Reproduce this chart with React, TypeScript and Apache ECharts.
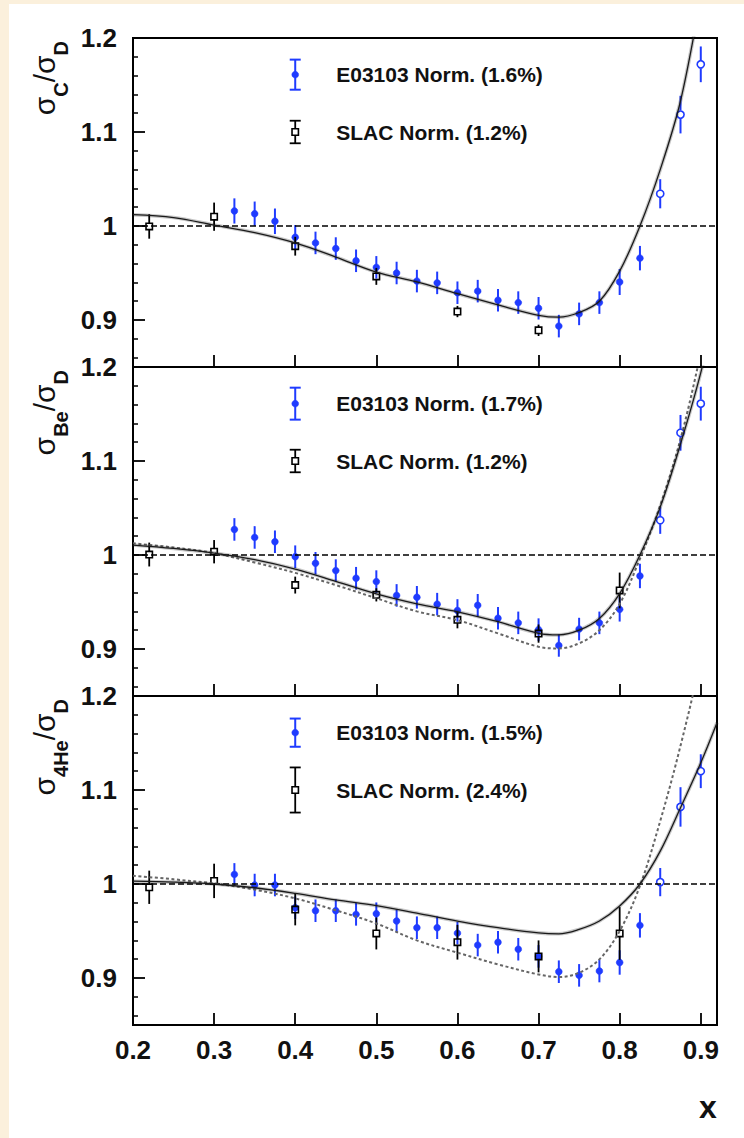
import { useEffect, useRef } from "react";
import * as echarts from "echarts";

// ---------- axes ----------
const xTicks = [0.2, 0.3, 0.4, 0.5, 0.6, 0.7, 0.8, 0.9];
const yMajorTicks = [0.9, 1.0, 1.1];
const yLabelValues = [0.9, 1.0, 1.1, 1.2];
const yMinorTicks = [0.86, 0.88, 0.92, 0.94, 0.96, 0.98, 1.02, 1.04, 1.06, 1.08, 1.12, 1.14, 1.16, 1.18];

// ---------- E03103 data ----------
const xE03103 = [0.325, 0.35, 0.375, 0.4, 0.425, 0.45, 0.475, 0.5, 0.525, 0.55, 0.575, 0.6, 0.625, 0.65, 0.675, 0.7, 0.725, 0.75, 0.775, 0.8, 0.825, 0.85, 0.875, 0.9];
const eC = [1.016, 1.013, 1.005, 0.988, 0.982, 0.976, 0.963, 0.956, 0.950, 0.9414, 0.9395, 0.929, 0.9307, 0.921, 0.9185, 0.9125, 0.8935, 0.9065, 0.9185, 0.9404, 0.9658, 1.0343, 1.1185, 1.172];
const eCErr = [0.0134, 0.013, 0.0136, 0.013, 0.012, 0.012, 0.012, 0.012, 0.012, 0.012, 0.012, 0.012, 0.012, 0.012, 0.012, 0.012, 0.012, 0.012, 0.012, 0.0138, 0.013, 0.0155, 0.02, 0.019];
const eBe = [1.0272, 1.0187, 1.0141, 0.9982, 0.9912, 0.9834, 0.9753, 0.9717, 0.957, 0.955, 0.9477, 0.941, 0.9465, 0.9327, 0.9278, 0.9206, 0.9038, 0.9212, 0.9278, 0.9422, 0.9777, 1.037, 1.13, 1.161];
const eBeErr = [0.012, 0.012, 0.012, 0.012, 0.012, 0.012, 0.012, 0.012, 0.012, 0.012, 0.012, 0.012, 0.012, 0.012, 0.012, 0.012, 0.012, 0.012, 0.012, 0.013, 0.013, 0.0145, 0.019, 0.018];
const eHe = [1.0102, 0.9989, 0.9989, 0.9748, 0.9716, 0.9716, 0.9677, 0.9684, 0.9606, 0.9535, 0.9535, 0.9477, 0.935, 0.938, 0.9306, 0.923, 0.9067, 0.9028, 0.9074, 0.9165, 0.956, 1.002, 1.082, 1.12];
const eHeErr = [0.012, 0.012, 0.012, 0.012, 0.012, 0.012, 0.012, 0.012, 0.012, 0.012, 0.012, 0.012, 0.012, 0.012, 0.012, 0.012, 0.012, 0.012, 0.012, 0.013, 0.013, 0.015, 0.021, 0.018];
const openFromX = 0.85;

// ---------- SLAC data ----------
const xSLAC = [0.22, 0.3, 0.4, 0.5, 0.6, 0.7, 0.8];
const sC = [0.9995, 1.0099, 0.9785, 0.9464, 0.909, 0.889];
const sCErr = [0.013, 0.015, 0.01, 0.009, 0.006, 0.006];
const sBe = [1.0005, 1.0035, 0.968, 0.9576, 0.931, 0.9164, 0.9623];
const sBeErr = [0.0127, 0.0124, 0.009, 0.007, 0.009, 0.0097, 0.019];
const sHe = [0.9965, 1.0033, 0.9728, 0.9474, 0.9381, 0.923, 0.9474];
const sHeErr = [0.0177, 0.0183, 0.0168, 0.017, 0.0185, 0.017, 0.028];

// ---------- model curves ----------
const xCurve = [0.2, 0.25, 0.3, 0.35, 0.4, 0.45, 0.5, 0.55, 0.6, 0.65, 0.7, 0.725, 0.75, 0.775, 0.8, 0.825, 0.85, 0.875, 0.9, 0.92];
const solidC = [1.012, 1.009, 1.001, 0.993, 0.982, 0.967, 0.951, 0.9405, 0.928, 0.916, 0.905, 0.903, 0.908, 0.92, 0.952, 1.0, 1.06, 1.133, 1.243, 1.34];
const solidBe = [1.0106, 1.007, 1.002, 0.995, 0.985, 0.972, 0.9586, 0.948, 0.9396, 0.929, 0.9166, 0.915, 0.92, 0.9325, 0.959, 1.0, 1.051, 1.118, 1.194, 1.27];
const dottedBe = [1.0124, 1.008, 1.002, 0.992, 0.981, 0.968, 0.954, 0.94, 0.9307, 0.9166, 0.9024, 0.9006, 0.906, 0.92, 0.948, 0.996, 1.0527, 1.1233, 1.215, 1.3];
const solidHe = [1.003, 1.002, 1.0, 0.996, 0.99, 0.983, 0.977, 0.969, 0.9606, 0.9535, 0.948, 0.947, 0.9517, 0.9606, 0.9766, 1.0, 1.035, 1.0812, 1.129, 1.1716];
const dottedHe = [1.0088, 1.005, 1.0006, 0.994, 0.9847, 0.972, 0.958, 0.94, 0.927, 0.9145, 0.9038, 0.901, 0.9056, 0.9198, 0.95, 0.998, 1.067, 1.147, 1.24, 1.34];

// ---------- labels ----------
const panelSubs = ["C", "Be", "4He"];
const legendE = ["E03103 Norm. (1.6%)", "E03103 Norm. (1.7%)", "E03103 Norm. (1.5%)"];
const legendS = ["SLAC Norm. (1.2%)", "SLAC Norm. (1.2%)", "SLAC Norm. (2.4%)"];
const normE = [0.016, 0.017, 0.015];
const normS = [0.012, 0.012, 0.024];
const legendX = 0.4;
const legendYE = 1.161;
const legendYS = 1.1;
const xTitle = "x";

const BLUE = "#1f3bff";
const FONT = "'Liberation Sans', Arial, Helvetica, sans-serif";

const GRID_LEFT = 133;
const GRID_W = 584;
const GRID_H = 329;
const GRID_TOPS = [38, 367, 696];
const SMOOTH = 0.35;

function pointChildren(api: any, kind: "E" | "S", x: number, y: number, e: number, open: boolean, cap: boolean) {
  const c = api.coord([x, y]);
  const yt = api.coord([x, y + e])[1];
  const yb = api.coord([x, y - e])[1];
  const color = kind === "E" ? BLUE : "#000";
  const lw = kind === "E" ? 2 : 1.8;
  const children: any[] = [];
  const gap = kind === "S" ? 3.2 : open ? 4 : 0;
  if (gap > 0) {
    if (yt < c[1] - gap) children.push({ type: "line", shape: { x1: c[0], y1: yt, x2: c[0], y2: c[1] - gap }, style: { stroke: color, lineWidth: lw } });
    if (yb > c[1] + gap) children.push({ type: "line", shape: { x1: c[0], y1: c[1] + gap, x2: c[0], y2: yb }, style: { stroke: color, lineWidth: lw } });
  } else {
    children.push({ type: "line", shape: { x1: c[0], y1: yt, x2: c[0], y2: yb }, style: { stroke: color, lineWidth: lw } });
  }
  if (cap) {
    children.push({ type: "line", shape: { x1: c[0] - 5.5, y1: yt, x2: c[0] + 5.5, y2: yt }, style: { stroke: color, lineWidth: lw } });
    children.push({ type: "line", shape: { x1: c[0] - 5.5, y1: yb, x2: c[0] + 5.5, y2: yb }, style: { stroke: color, lineWidth: lw } });
  }
  if (kind === "E") {
    if (open) children.push({ type: "circle", shape: { cx: c[0], cy: c[1], r: 3.6 }, style: { fill: "none", stroke: color, lineWidth: 1.6 } });
    else children.push({ type: "circle", shape: { cx: c[0], cy: c[1], r: 3.4 }, style: { fill: color, stroke: color, lineWidth: 0.5 } });
  } else {
    children.push({ type: "rect", shape: { x: c[0] - 3.2, y: c[1] - 3.2, width: 6.4, height: 6.4 }, style: { fill: "none", stroke: "#000", lineWidth: 1.6 } });
  }
  return children;
}

export default function App() {
  const ref = useRef<HTMLDivElement>(null);
  useEffect(() => {
    if (!ref.current) return;
    const chart = echarts.init(ref.current, undefined, { renderer: "svg" });

    const eVals = [eC, eBe, eHe];
    const eErrs = [eCErr, eBeErr, eHeErr];
    const sVals = [sC, sBe, sHe];
    const sErrs = [sCErr, sBeErr, sHeErr];
    const solids = [solidC, solidBe, solidHe];
    const dotteds: (number[] | null)[] = [null, dottedBe, dottedHe];

    const grids: any[] = [];
    const xAxes: any[] = [];
    const yAxes: any[] = [];
    const series: any[] = [];

    for (let p = 0; p < 3; p++) {
      grids.push({ left: GRID_LEFT, top: GRID_TOPS[p], width: GRID_W, height: GRID_H, show: true, borderColor: "#000", borderWidth: 2, backgroundColor: "transparent" });
      xAxes.push({
        type: "value", gridIndex: p, min: 0.2, max: 0.92,
        axisLine: { show: false },
        axisTick: { show: true, inside: true, length: 12, customValues: xTicks, lineStyle: { color: "#000", width: 1.8 } },
        axisLabel: { show: p === 2, customValues: xTicks, margin: 12, fontSize: 26, fontWeight: "bold", fontFamily: FONT, color: "#111", formatter: (v: number) => v.toFixed(1) },
        splitLine: { show: false },
      });
      // minor ticks
      yAxes.push({
        type: "value", gridIndex: p, min: 0.85, max: 1.2, position: "left",
        axisLine: { show: false },
        axisTick: { show: true, inside: true, length: 5, customValues: yMinorTicks, lineStyle: { color: "#000", width: 1.5 } },
        axisLabel: { show: false },
        splitLine: { show: false },
      });
      // major ticks + labels
      yAxes.push({
        type: "value", gridIndex: p, min: 0.85, max: 1.2, position: "left",
        axisLine: { show: false },
        axisTick: { show: true, inside: true, length: 12, customValues: yMajorTicks, lineStyle: { color: "#000", width: 1.8 } },
        axisLabel: { show: true, customValues: yLabelValues, margin: 16, fontSize: 26, fontWeight: "bold", fontFamily: FONT, color: "#111", formatter: (v: number) => String(Math.round(v * 10) / 10) },
        splitLine: { show: false },
      });
      const yIdx = p * 2 + 1;

      // reference line at 1
      series.push({
        type: "line", xAxisIndex: p, yAxisIndex: yIdx, data: [[0.2, 1], [0.92, 1]],
        showSymbol: false, silent: true,
        lineStyle: { color: "#000", width: 1.6, type: [6, 3] },
      });
      // dotted curve
      const dc = dotteds[p];
      if (dc) {
        series.push({
          type: "line", xAxisIndex: p, yAxisIndex: yIdx, data: xCurve.map((x, i) => [x, dc[i]]),
          showSymbol: false, smooth: SMOOTH, clip: true, silent: true,
          lineStyle: { color: "#666", width: 2, type: [3, 2.5] },
        });
      }
      // solid curve (halo + core)
      const sc = solids[p];
      series.push({
        type: "line", xAxisIndex: p, yAxisIndex: yIdx, data: xCurve.map((x, i) => [x, sc[i]]),
        showSymbol: false, smooth: SMOOTH, clip: true, silent: true,
        lineStyle: { color: "rgba(0,0,0,0.22)", width: 3.6 },
      });
      series.push({
        type: "line", xAxisIndex: p, yAxisIndex: yIdx, data: xCurve.map((x, i) => [x, sc[i]]),
        showSymbol: false, smooth: SMOOTH, clip: true, silent: true,
        lineStyle: { color: "#1a1a1a", width: 1.3 },
      });

      // E03103 points
      const ev = eVals[p];
      const ee = eErrs[p];
      series.push({
        type: "custom", xAxisIndex: p, yAxisIndex: yIdx,
        data: xE03103.map((x, i) => [x, ev[i], ee[i]]),
        encode: { x: 0, y: 1 },
        renderItem: (params: any, api: any) => {
          const x = api.value(0);
          return { type: "group", children: pointChildren(api, "E", x, api.value(1), api.value(2), x >= openFromX - 1e-9, false) };
        },
      });
      // SLAC points
      const sv = sVals[p];
      const se = sErrs[p];
      series.push({
        type: "custom", xAxisIndex: p, yAxisIndex: yIdx,
        data: sv.map((v, i) => [xSLAC[i], v, se[i]]),
        encode: { x: 0, y: 1 },
        renderItem: (params: any, api: any) => {
          return { type: "group", children: pointChildren(api, "S", api.value(0), api.value(1), api.value(2), false, false) };
        },
      });
      // legend
      const labels = [legendE[p], legendS[p]];
      series.push({
        type: "custom", xAxisIndex: p, yAxisIndex: yIdx,
        data: [[legendX, legendYE, normE[p]], [legendX, legendYS, normS[p]]],
        encode: { x: 0, y: 1 },
        renderItem: (params: any, api: any) => {
          const kind = params.dataIndex === 0 ? "E" : "S";
          const x = api.value(0), y = api.value(1);
          const ch = pointChildren(api, kind, x, y, api.value(2), false, true);
          const c = api.coord([x, y]);
          ch.push({
            type: "text", x: c[0] + 41, y: c[1],
            style: { text: labels[params.dataIndex], fill: "#111", fontSize: 21, fontWeight: "bold", fontFamily: FONT, align: "left", verticalAlign: "middle" },
          });
          return { type: "group", children: ch };
        },
      });
    }

    const graphics: any[] = panelSubs.map((sub, p) => ({
      type: "text",
      x: 44,
      y: GRID_TOPS[p] + 3,
      rotation: Math.PI / 2,
      style: {
        text: `{s|σ}{b|${sub}}{s|/σ}{b|D}`,
        align: "right",
        verticalAlign: "middle",
        fill: "#111",
        rich: {
          s: { fontSize: 30, fontFamily: FONT, lineHeight: 30, verticalAlign: "top", fill: "#111" },
          b: { fontSize: 20, fontFamily: FONT, fontWeight: "bold", lineHeight: 20, padding: [22, 0, 0, 0], verticalAlign: "top", fill: "#111" },
        },
      },
    }));
    graphics.push({
      type: "text", x: 708, y: 1107,
      style: { text: xTitle, fontSize: 32, fontWeight: "bold", fontFamily: FONT, fill: "#111", align: "center", verticalAlign: "middle" },
    });

    chart.setOption({
      animation: false,
      backgroundColor: "transparent",
      grid: grids,
      xAxis: xAxes,
      yAxis: yAxes,
      series,
      graphic: graphics,
    });
    return () => chart.dispose();
  }, []);

  return (
    <div style={{ position: "fixed", left: 0, top: 0, width: 744, height: 1138, background: "#FBF0DC" }}>
      <div style={{ position: "absolute", left: 9, top: 4, right: 0, bottom: 0, background: "#ffffff" }} />
      <div ref={ref} style={{ position: "absolute", left: 0, top: 0, width: 744, height: 1138 }} />
    </div>
  );
}
